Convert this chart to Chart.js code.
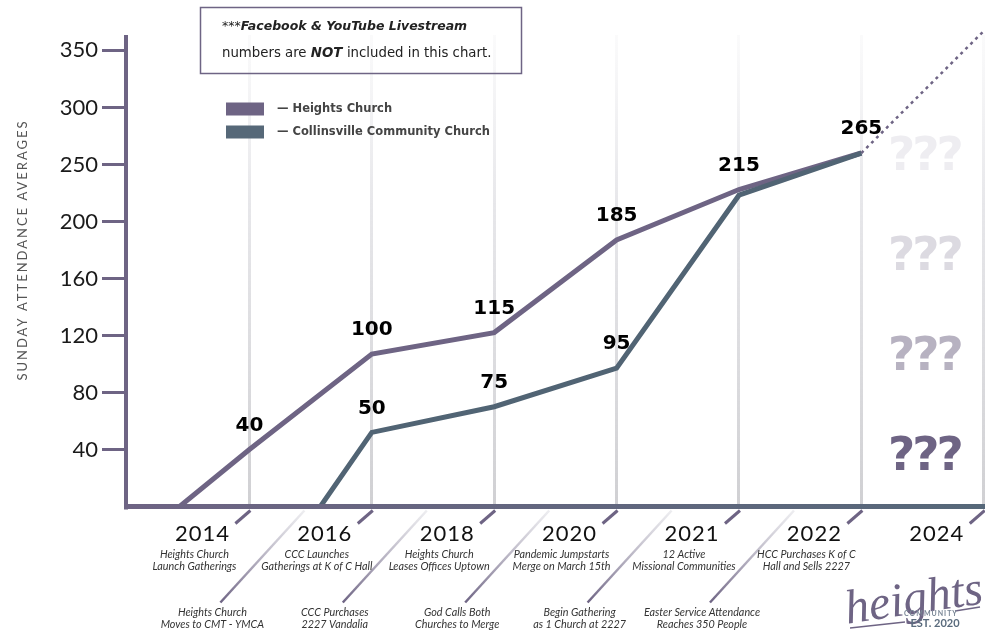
<!DOCTYPE html>
<html>
<head>
<meta charset="utf-8">
<script src="https://cdn.jsdelivr.net/npm/chart.js@4.4.1/dist/chart.umd.min.js"></script>
<style>
html, body { margin: 0; padding: 0; background: #fff; }
#wrap { width: 985px; height: 630px; position: relative; }
</style>
</head>
<body>
<div id="wrap"><canvas id="chart" width="985" height="630"></canvas></div>
<script>
// timeline years (one gridline each)
const years = ['2014', '2016', '2018', '2020', '2021', '2022', '2024'];
// y axis ticks are evenly spaced but not evenly valued
const tickValues = [0, 40, 80, 120, 160, 200, 250, 300, 350];

// series, x = position on the year timeline (0 = 2014)
const heightsX = [-0.57, 0, 1, 2, 3, 4, 5];
const heightsValues = [0, 40, 107, 122, 187, 228, 260];
const heightsLabels = ['', '40', '100', '115', '185', '215', '265'];

const cccX = [0.58, 1, 2, 3, 4, 5];
const cccValues = [0, 52, 70, 97, 223, 260];
const cccLabels = ['', '50', '75', '95', '', ''];

const projectionX = [5, 6];
const projectionValues = [260, 367];

const eventsTop = [
    ['Heights Church', 'Launch Gatherings'],
    ['CCC Launches', 'Gatherings at K of C Hall'],
    ['Heights Church', 'Leases Offices Uptown'],
    ['Pandemic Jumpstarts', 'Merge on March 15th'],
    ['12 Active', 'Missional Communities'],
    ['HCC Purchases K of C', 'Hall and Sells 2227']
];
const eventsBottom = [
    ['Heights Church', 'Moves to CMT - YMCA'],
    ['CCC Purchases', '2227 Vandalia'],
    ['God Calls Both', 'Churches to Merge'],
    ['Begin Gathering', 'as 1 Church at 2227'],
    ['Easter Service Attendance', 'Reaches 350 People']
];

const purple = '#6e6484';
const slate = '#516474';

// piecewise map from attendance to the evenly spaced tick index
const toAxis = (v) => {
    let i = 0;
    while (i < tickValues.length - 2 && v > tickValues[i + 1]) i++;
    return i + (v - tickValues[i]) / (tickValues[i + 1] - tickValues[i]);
};
const points = (xs, vs) => xs.map((x, i) => ({ x: x, y: toAxis(vs[i]) }));

const gridColor = (c) => {
    const { ctx, chartArea } = c.chart;
    if (!chartArea) return '#d6d6d8';
    const g = ctx.createLinearGradient(0, chartArea.top, 0, chartArea.bottom);
    g.addColorStop(0, 'rgba(228,228,232,0.15)');
    g.addColorStop(0.35, 'rgba(225,225,229,0.8)');
    g.addColorStop(1, 'rgba(208,208,211,1)');
    return g;
};

const decor = {
    id: 'decor',
    afterDraw(chart) {
        const ctx = chart.ctx;
        const a = chart.chartArea;
        const xs = chart.scales.x;
        ctx.save();

        // axes
        ctx.lineCap = 'butt';
        ctx.strokeStyle = purple;
        ctx.lineWidth = 4;
        ctx.beginPath();
        ctx.moveTo(a.left - 1, a.top);
        ctx.lineTo(a.left - 1, a.bottom + 3);
        ctx.stroke();
        const bg = ctx.createLinearGradient(a.left, 0, a.right, 0);
        bg.addColorStop(0, purple);
        bg.addColorStop(1, '#566879');
        ctx.strokeStyle = bg;
        ctx.lineWidth = 5;
        ctx.beginPath();
        ctx.moveTo(a.left - 3, a.bottom);
        ctx.lineTo(chart.width, a.bottom);
        ctx.stroke();

        // timeline ticks, connectors and labels
        const by = a.bottom;
        years.forEach((yr, i) => {
            const gx = xs.getPixelForValue(i);
            ctx.strokeStyle = purple;
            ctx.lineWidth = 3;
            ctx.beginPath();
            ctx.moveTo(gx + 1, by + 4);
            ctx.lineTo(gx - 14, by + 17);
            ctx.stroke();

            if (i < eventsBottom.length) {
                const lg = ctx.createLinearGradient(0, by + 4, 0, by + 96);
                lg.addColorStop(0, 'rgba(225,225,230,0.6)');
                lg.addColorStop(1, purple);
                ctx.strokeStyle = lg;
                ctx.lineWidth = 2.5;
                ctx.beginPath();
                ctx.moveTo(gx + 55, by + 4);
                ctx.lineTo(gx - 29, by + 96);
                ctx.stroke();
            }

            ctx.fillStyle = '#111';
            ctx.textAlign = 'center';
            ctx.textBaseline = 'middle';
            ctx.font = '22px Lato';
            ctx.letterSpacing = '1px';
            ctx.fillText(yr, gx - 47, by + 27);
            ctx.letterSpacing = '0px';

            ctx.fillStyle = '#333';
            ctx.font = 'italic 10.8px Lato';
            if (eventsTop[i]) {
                ctx.fillText(eventsTop[i][0], gx - 55, by + 48);
                ctx.fillText(eventsTop[i][1], gx - 55, by + 60);
            }
            if (eventsBottom[i]) {
                ctx.fillText(eventsBottom[i][0], gx - 37, by + 106);
                ctx.fillText(eventsBottom[i][1], gx - 37, by + 118);
            }
        });

        // data labels
        ctx.fillStyle = '#000';
        ctx.font = 'bold 20px "DejaVu Sans"';
        ctx.textAlign = 'center';
        ctx.textBaseline = 'middle';
        [[0, heightsLabels], [1, cccLabels]].forEach(([di, labels]) => {
            chart.getDatasetMeta(di).data.forEach((pt, j) => {
                if (labels[j]) ctx.fillText(labels[j], pt.x, pt.y - 24);
            });
        });

        // question marks for the future
        const qColors = ['#eeedf1', '#dcdae1', '#b7b2c1', purple];
        ctx.font = 'bold 47px "DejaVu Sans"';
        ctx.letterSpacing = '-3px';
        qColors.forEach((col, k) => {
            ctx.fillStyle = col;
            ctx.fillText('???', xs.getPixelForValue(5) + 63, a.top + 123 + k * 100);
        });
        ctx.letterSpacing = '0px';

        // y axis title
        ctx.save();
        ctx.translate(23, 250);
        ctx.rotate(-Math.PI / 2);
        ctx.fillStyle = '#555';
        ctx.font = '13px Lato';
        ctx.letterSpacing = '2px';
        ctx.fillText('SUNDAY ATTENDANCE AVERAGES', 0, 0);
        ctx.restore();

        // note box
        ctx.strokeStyle = purple;
        ctx.lineWidth = 1.5;
        ctx.strokeRect(200.5, 7.5, 321, 66);
        ctx.textAlign = 'left';
        ctx.fillStyle = '#222';
        ctx.font = '12.5px "DejaVu Sans"';
        ctx.fillText('***', 222, 27);
        let w = ctx.measureText('***').width;
        ctx.font = 'oblique bold 12.5px "DejaVu Sans"';
        ctx.fillText('Facebook & YouTube Livestream', 222 + w, 27);
        ctx.font = '13.3px "DejaVu Sans"';
        ctx.fillText('numbers are ', 222, 54);
        w = ctx.measureText('numbers are ').width;
        ctx.font = 'oblique bold 13.3px "DejaVu Sans"';
        ctx.fillText('NOT', 222 + w, 54);
        w += ctx.measureText('NOT ').width;
        ctx.font = '13.3px "DejaVu Sans"';
        ctx.fillText('included in this chart.', 222 + w, 54);

        // legend
        [['Heights Church', purple], ['Collinsville Community Church', '#566878']].forEach(([name, col], k) => {
            const cy = 109 + k * 23;
            ctx.fillStyle = col;
            ctx.fillRect(226, cy - 6.5, 38, 13);
            ctx.fillStyle = '#444';
            ctx.font = 'bold 11.5px "DejaVu Sans"';
            ctx.fillText('\u2014 ' + name, 277, cy);
        });

        // logo
        ctx.save();
        ctx.translate(914, 601);
        ctx.rotate(-0.15);
        ctx.fillStyle = purple;
        ctx.font = 'italic 48px "Liberation Serif"';
        ctx.textAlign = 'center';
        ctx.fillText('heights', 0, 0);
        ctx.restore();
        ctx.strokeStyle = purple;
        ctx.lineWidth = 1.5;
        ctx.beginPath();
        ctx.moveTo(955, 611);
        ctx.lineTo(980, 607);
        ctx.stroke();
        ctx.beginPath();
        ctx.moveTo(850, 628);
        ctx.lineTo(905, 622);
        ctx.stroke();
        ctx.textAlign = 'center';
        ctx.fillStyle = '#7a8796';
        ctx.font = 'bold 7px Lato';
        ctx.letterSpacing = '1px';
        ctx.fillText('COMMUNITY', 931, 614);
        ctx.letterSpacing = '0px';
        ctx.fillStyle = '#5a6b7d';
        ctx.font = 'bold 11px Lato';
        ctx.fillText('EST. 2020', 935, 623);

        ctx.restore();
    }
};

new Chart(document.getElementById('chart'), {
    type: 'line',
    data: {
        datasets: [
            {
                label: 'Heights Church',
                data: points(heightsX, heightsValues),
                borderColor: purple,
                borderWidth: 5,
                pointRadius: 0,
                tension: 0,
                order: 1
            },
            {
                label: 'Collinsville Community Church',
                data: points(cccX, cccValues),
                borderColor: slate,
                borderWidth: 5,
                pointRadius: 0,
                tension: 0,
                order: 0
            },
            {
                label: 'Projection',
                data: points(projectionX, projectionValues),
                borderColor: purple,
                borderWidth: 2.5,
                borderDash: [3, 4],
                pointRadius: 0,
                clip: false,
                order: 2
            }
        ]
    },
    options: {
        responsive: false,
        animation: false,
        layout: { padding: { top: 35, left: 0, right: 0, bottom: 0 } },
        plugins: { legend: { display: false }, tooltip: { enabled: false } },
        scales: {
            x: {
                type: 'linear',
                min: -1,
                max: 6.01,
                afterBuildTicks: (s) => { s.ticks = years.map((_, i) => ({ value: i })); },
                ticks: { display: false },
                grid: { color: gridColor, lineWidth: 3, drawTicks: false },
                border: { display: false },
                afterFit: (s) => { s.height = 123.5; }
            },
            y: {
                type: 'linear',
                min: 0,
                max: 8.27,
                afterBuildTicks: (s) => { s.ticks = tickValues.slice(1).map((_, i) => ({ value: i + 1 })); },
                ticks: {
                    callback: (v) => String(tickValues[v]),
                    font: { family: 'Lato', size: 22, weight: '400' },
                    color: '#1a1a1a',
                    padding: 4
                },
                grid: { drawOnChartArea: false, color: purple, lineWidth: 3, tickLength: 25 },
                border: { display: false },
                afterFit: (s) => { s.width = 127; }
            }
        }
    },
    plugins: [decor]
});
</script>
</body>
</html>
